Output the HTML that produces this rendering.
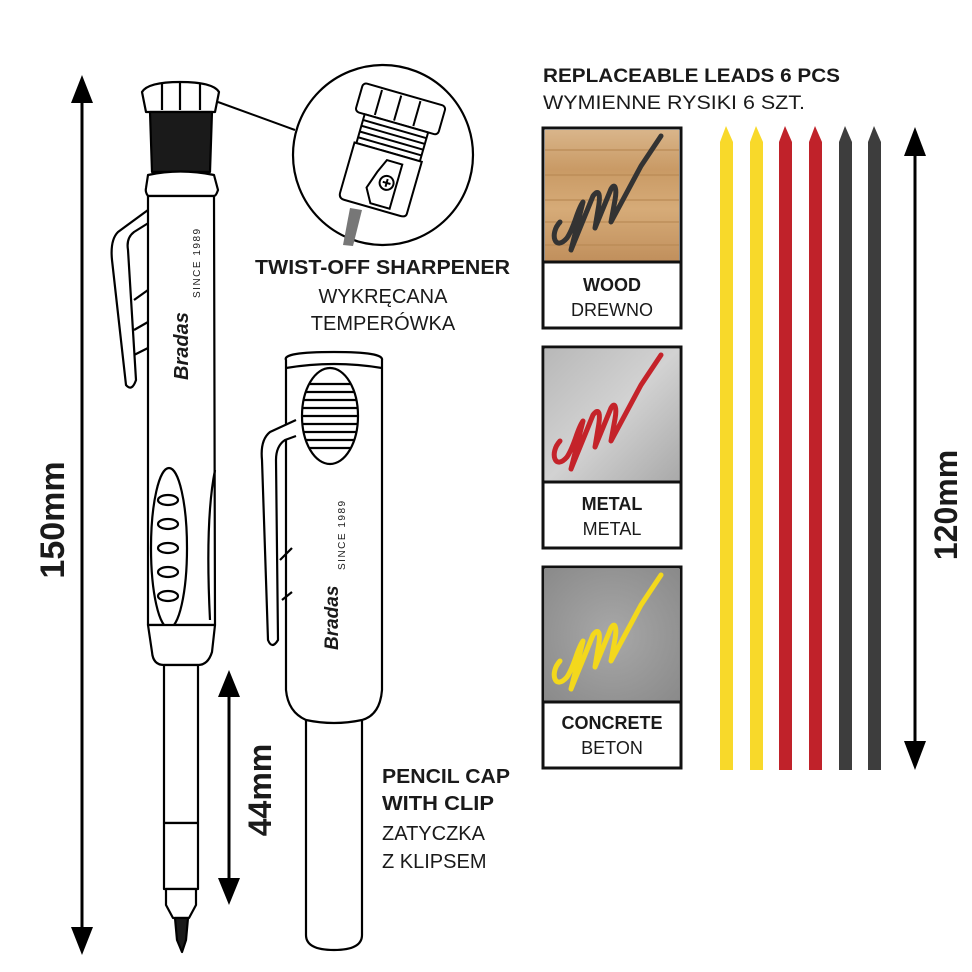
<!DOCTYPE html>
<html><head><meta charset="utf-8"><style>
html,body{margin:0;padding:0;background:#fff}
svg{display:block}
text{font-family:"Liberation Sans",sans-serif;fill:#1a1a1a}
</style></head><body>
<svg width="972" height="972" viewBox="0 0 972 972" xmlns="http://www.w3.org/2000/svg">
<defs>
<path id="scr" d="M15,88 C4,100 10,118 22,104 C30,92 32,76 38,68 L26,116 L48,62 C54,54 56,60 53,76 L50,94 L66,55 C70,48 72,55 70,66 L66,88 L96,32 L116,2" fill="none" stroke-width="5" stroke-linecap="round" stroke-linejoin="round"/>
<linearGradient id="wood" x1="0" y1="0" x2="0" y2="1">
<stop offset="0" stop-color="#d9b58a"/><stop offset="0.3" stop-color="#c99a65"/><stop offset="0.6" stop-color="#d6ab78"/><stop offset="1" stop-color="#c08f5c"/></linearGradient>
<linearGradient id="metal" x1="0" y1="0" x2="1" y2="1">
<stop offset="0" stop-color="#b8b8b8"/><stop offset="0.5" stop-color="#d2d2d2"/><stop offset="1" stop-color="#a9a9a9"/></linearGradient>
<radialGradient id="conc" cx="0.5" cy="0.5" r="0.7">
<stop offset="0" stop-color="#a8a8a8"/><stop offset="1" stop-color="#8a8a8a"/></radialGradient>
</defs>

<line x1="82" y1="95" x2="82" y2="935" stroke="#000" stroke-width="3"/>
<polygon points="82,75 71,103 93,103" fill="#000"/>
<polygon points="82,955 71,927 93,927" fill="#000"/>
<text transform="translate(64,520) rotate(-90)" text-anchor="middle" font-size="34" font-weight="bold" fill="#000">150mm</text>

<line x1="229" y1="690" x2="229" y2="885" stroke="#000" stroke-width="3"/>
<polygon points="229,670 218,697 240,697" fill="#000"/>
<polygon points="229,905 218,878 240,878" fill="#000"/>
<text transform="translate(271,790) rotate(-90)" text-anchor="middle" font-size="32" font-weight="bold" fill="#000">44mm</text>

<g fill="#fff" stroke="#000" stroke-width="2.2" stroke-linejoin="round">
<path d="M146,112 L142,92 Q148,82 180,82 Q213,82 219,92 L215,112 Z"/>
<line x1="162" y1="84" x2="162" y2="110"/><line x1="180" y1="82" x2="180" y2="110"/><line x1="200" y1="84" x2="200" y2="110"/>
<path d="M150,112 L212,112 L210,172 L152,172 Z" fill="#1a1a1a"/>
<path d="M148,175 Q180,168 214,175 L218,190 Q216,196 214,196 L148,196 Q145,192 146,188 Z"/>
<path d="M148,210 L118,232 Q110,240 112,260 L126,385 Q132,392 136,380 L128,250 Q126,238 134,232 L150,222"/>
<path d="M134,300 L148,290 M134,330 L148,322 M134,355 L148,348" fill="none"/>
<path d="M148,196 L214,196 L215,625 L148,625 Z"/>
<path d="M215,470 Q205,520 210,620" fill="none"/>
<ellipse cx="169" cy="548" rx="18" ry="80"/>
<ellipse cx="168" cy="500" rx="10" ry="5"/><ellipse cx="168" cy="524" rx="10" ry="5"/><ellipse cx="168" cy="548" rx="10" ry="5"/><ellipse cx="168" cy="572" rx="10" ry="5"/><ellipse cx="168" cy="596" rx="10" ry="5"/>
<path d="M148,625 L215,625 L212,652 Q208,665 198,665 L164,665 Q153,665 152,652 Z"/>
<rect x="164" y="665" width="34" height="158"/>
<rect x="164" y="823" width="34" height="66"/>
<path d="M166,889 L196,889 L196,905 L189,918 L173,918 L166,905 Z"/>
<path d="M175,918 L188,918 L186,940 L182,952 L177,940 Z" fill="#1a1a1a"/>
</g>
<text transform="translate(188,380) rotate(-90)" font-size="20" font-weight="bold" font-style="italic" font-family="Liberation Serif,serif" fill="#000">Bradas</text>
<text transform="translate(200,298) rotate(-90)" font-size="10" letter-spacing="1.5" fill="#000">SINCE 1989</text>

<line x1="218" y1="102" x2="295" y2="130" stroke="#000" stroke-width="2"/>
<circle cx="383" cy="155" r="90" fill="#fff" stroke="#000" stroke-width="2.2"/>
<path d="M350,208 L343,245 L353,246 L362,210 Z" fill="#777"/>
<g transform="translate(-14,8) rotate(16 395 140)" fill="#fff" stroke="#000" stroke-width="2">
<rect x="360" y="82" width="86" height="30" rx="4"/>
<line x1="380" y1="84" x2="380" y2="110"/><line x1="400" y1="84" x2="400" y2="110"/><line x1="420" y1="84" x2="420" y2="110"/>
<rect x="370" y="112" width="66" height="30"/>
<path d="M370,118 H436 M370,124 H436 M370,130 H436 M370,136 H436" fill="none"/>
<path d="M368,142 L438,142 L438,196 Q438,200 432,200 L374,200 Q368,200 368,194 Z"/>
<path d="M404,150 L420,150 L420,196 L400,196 L392,182 L398,164 Z" fill="none"/>
<circle cx="410" cy="172" r="7"/>
<path d="M406,172 H414 M410,168 V176" fill="none"/>
</g>

<text x="255" y="274" font-size="20" font-weight="bold" fill="#000" textLength="255" lengthAdjust="spacingAndGlyphs">TWIST-OFF SHARPENER</text>
<text x="383" y="303" text-anchor="middle" font-size="20">WYKRĘCANA</text>
<text x="383" y="330" text-anchor="middle" font-size="20">TEMPERÓWKA</text>

<g fill="#fff" stroke="#000" stroke-width="2.2" stroke-linejoin="round">
<path d="M306,710 L306,935 Q306,950 334,950 Q362,950 362,935 L362,710 Z"/>
<path d="M286,360 Q282,352 334,352 Q384,352 382,360 L382,690 Q380,715 362,720 Q334,726 306,720 Q288,712 286,690 Z"/>
<path d="M286,368 Q334,360 382,368" fill="none"/>
<ellipse cx="330" cy="416" rx="28" ry="48"/>
<path d="M310,384 H350 M306,392 H354 M304,400 H356 M303,408 H357 M302,416 H358 M303,424 H357 M304,432 H356 M306,440 H354 M310,448 H350" fill="none"/>
<path d="M296,420 L270,432 Q260,440 262,460 L268,640 Q272,650 278,640 L276,460 Q276,446 285,440 L296,436"/>
<path d="M280,560 L292,548 M282,600 L292,592" fill="none"/>
</g>
<text transform="translate(338,650) rotate(-90)" font-size="19" font-weight="bold" font-style="italic" font-family="Liberation Serif,serif" fill="#000">Bradas</text>
<text transform="translate(345,570) rotate(-90)" font-size="10" letter-spacing="1.5" fill="#000">SINCE 1989</text>

<text x="382" y="783" font-size="20" font-weight="bold" fill="#000" textLength="128" lengthAdjust="spacingAndGlyphs">PENCIL CAP</text>
<text x="382" y="810" font-size="20" font-weight="bold" fill="#000" textLength="112" lengthAdjust="spacingAndGlyphs">WITH CLIP</text>
<text x="382" y="840" font-size="20">ZATYCZKA</text>
<text x="382" y="868" font-size="20">Z KLIPSEM</text>

<text x="543" y="82" font-size="19" font-weight="bold" fill="#000" textLength="297" lengthAdjust="spacingAndGlyphs">REPLACEABLE LEADS 6 PCS</text>
<text x="543" y="109" font-size="19" textLength="262" lengthAdjust="spacingAndGlyphs">WYMIENNE RYSIKI 6 SZT.</text>

<g>
<rect x="543" y="128" width="138" height="200" fill="#fff" stroke="#111" stroke-width="3"/>
<rect x="545" y="130" width="134" height="132" fill="url(#wood)"/>
<path d="M545,150 H679 M545,175 H679 M545,200 H679 M545,222 H679 M545,245 H679" stroke="#b98a55" stroke-width="2" opacity="0.6"/>
<line x1="543" y1="262" x2="681" y2="262" stroke="#111" stroke-width="3"/>
<use href="#scr" x="545" y="134" stroke="#333"/>
<text x="612" y="291" text-anchor="middle" font-size="18" font-weight="bold" fill="#000">WOOD</text>
<text x="612" y="316" text-anchor="middle" font-size="18">DREWNO</text>

<rect x="543" y="347" width="138" height="201" fill="#fff" stroke="#111" stroke-width="3"/>
<rect x="545" y="349" width="134" height="133" fill="url(#metal)"/>
<line x1="543" y1="482" x2="681" y2="482" stroke="#111" stroke-width="3"/>
<use href="#scr" x="545" y="353" stroke="#c4232a"/>
<text x="612" y="510" text-anchor="middle" font-size="18" font-weight="bold" fill="#000">METAL</text>
<text x="612" y="535" text-anchor="middle" font-size="18">METAL</text>

<rect x="543" y="567" width="138" height="201" fill="#fff" stroke="#111" stroke-width="3"/>
<rect x="545" y="569" width="134" height="133" fill="url(#conc)"/>
<line x1="543" y1="702" x2="681" y2="702" stroke="#111" stroke-width="3"/>
<use href="#scr" x="545" y="573" stroke="#f3d81c"/>
<text x="612" y="729" text-anchor="middle" font-size="18" font-weight="bold" fill="#000">CONCRETE</text>
<text x="612" y="754" text-anchor="middle" font-size="18">BETON</text>
</g>

<g>
<path d="M720,770 V142 L726,126 L733,142 V770 Z" fill="#f8d92a"/>
<path d="M750,770 V142 L756,126 L763,142 V770 Z" fill="#f8d92a"/>
<path d="M779,770 V142 L785,126 L792,142 V770 Z" fill="#c0222a"/>
<path d="M809,770 V142 L815,126 L822,142 V770 Z" fill="#c0222a"/>
<path d="M839,770 V142 L845,126 L852,142 V770 Z" fill="#3d3d3d"/>
<path d="M868,770 V142 L874,126 L881,142 V770 Z" fill="#3d3d3d"/>
</g>

<line x1="915" y1="150" x2="915" y2="750" stroke="#000" stroke-width="3"/>
<polygon points="915,127 904,156 926,156" fill="#000"/>
<polygon points="915,770 904,741 926,741" fill="#000"/>
<text transform="translate(957,505) rotate(-90)" text-anchor="middle" font-size="32" font-weight="bold" fill="#000">120mm</text>
</svg>
</body></html>
